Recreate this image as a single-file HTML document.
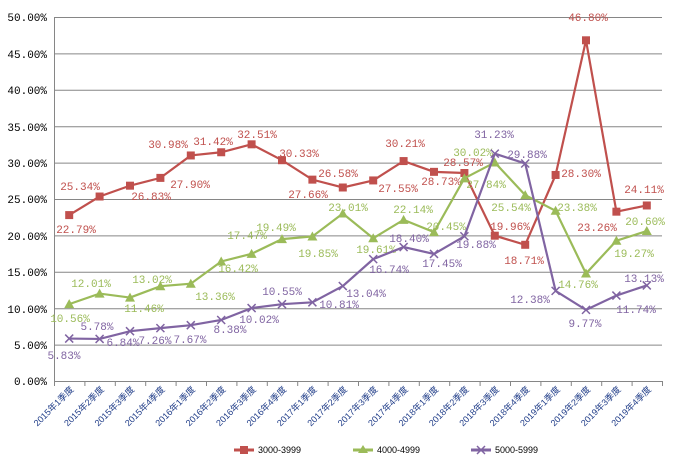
<!DOCTYPE html><html><head><meta charset="utf-8"><style>body{margin:0;background:#fff}svg{display:block}</style></head><body>
<svg width="679" height="467" xmlns="http://www.w3.org/2000/svg" font-family="Liberation Mono, monospace">
<g stroke="#868686" stroke-width="1">
<line x1="54" y1="17.5" x2="662" y2="17.5"/><line x1="54" y1="53.9" x2="662" y2="53.9"/><line x1="54" y1="90.3" x2="662" y2="90.3"/><line x1="54" y1="126.7" x2="662" y2="126.7"/><line x1="54" y1="163.1" x2="662" y2="163.1"/><line x1="54" y1="199.5" x2="662" y2="199.5"/><line x1="54" y1="235.9" x2="662" y2="235.9"/><line x1="54" y1="272.3" x2="662" y2="272.3"/><line x1="54" y1="308.7" x2="662" y2="308.7"/><line x1="54" y1="345.1" x2="662" y2="345.1"/><line x1="54" y1="381.5" x2="662" y2="381.5"/>
<line x1="54.5" y1="17" x2="54.5" y2="381"/>
</g>
<g font-size="11" fill="#000" text-anchor="end" font-family="Liberation Mono, monospace">
<text x="47" y="21">50.00%</text><text x="47" y="58">45.00%</text><text x="47" y="94">40.00%</text><text x="47" y="131">35.00%</text><text x="47" y="167">30.00%</text><text x="47" y="203">25.00%</text><text x="47" y="240">20.00%</text><text x="47" y="276">15.00%</text><text x="47" y="313">10.00%</text><text x="47" y="349">5.00%</text><text x="47" y="385">0.00%</text>
</g>
<g id="ticks" stroke="#868686"></g>
<g id="xl" font-size="9" fill="#1f3c88" font-family="Liberation Sans, Noto Sans CJK SC, sans-serif"></g>
<g id="series"></g>
<g font-size="9" font-family="Liberation Sans, sans-serif" fill="#000">
<line x1="234" y1="450" x2="254" y2="450" stroke="#c0504d" stroke-width="3"/><rect x="240" y="446" width="8" height="8" fill="#c0504d"/><text x="258" y="453">3000-3999</text>
<line x1="353" y1="450" x2="373" y2="450" stroke="#9bbb59" stroke-width="3"/><path d="M363 445 L368 453 L358 453Z" fill="#9bbb59"/><text x="377" y="453">4000-4999</text>
<line x1="471" y1="450" x2="491" y2="450" stroke="#8064a2" stroke-width="3"/><path d="M477 446 L485 454 M485 446 L477 454" stroke="#8064a2" stroke-width="1.5"/><text x="495" y="453">5000-5999</text>
</g>
</svg>
<script>
var ns="http://www.w3.org/2000/svg";
function X(i){return 54+30.4*(i+0.5)}function Y(v){return 381-v*7.28}
var q=["1","2","3","4"],labs=[];for(var y=2015;y<=2019;y++)for(var k=0;k<4;k++)labs.push(y+"年"+q[k]+"季度");
var t=document.getElementById("ticks"),xl=document.getElementById("xl");
for(var i=0;i<=20;i++){var l=document.createElementNS(ns,"line");var x=54.5+30.4*i;l.setAttribute("x1",x);l.setAttribute("x2",x);l.setAttribute("y1",381);l.setAttribute("y2",386);t.appendChild(l);}
labs.forEach(function(s,i){var e=document.createElementNS(ns,"text");var x=X(i)+5,y=390;e.setAttribute("x",x);e.setAttribute("y",y);e.setAttribute("text-anchor","end");e.setAttribute("transform","rotate(-45 "+x+" "+y+")");e.textContent=s;xl.appendChild(e);});
var R=[22.79,25.34,26.83,27.90,30.98,31.42,32.51,30.33,27.66,26.58,27.55,30.21,28.73,28.57,19.96,18.71,28.30,46.80,23.26,24.11];
var G=[10.56,12.01,11.46,13.02,13.36,16.42,17.47,19.49,19.85,23.01,19.61,22.14,20.45,27.84,30.02,25.54,23.38,14.76,19.27,20.60];
var P=[5.83,5.78,6.84,7.26,7.67,8.38,10.02,10.55,10.81,13.04,16.74,18.40,17.45,19.88,31.23,29.88,12.38,9.77,11.74,13.13];
var RL=[[76,233],[80,190],[151,200],[190,188],[168,148],[213,145],[257,138],[299,157],[308,198],[338,177],[398,192],[405,147],[441,185],[463,166],[510,230],[524,264],[581,177],[588,21],[597,231],[644,193]];
var GL=[[70,322],[91,287],[144,312],[152,283],[215,300],[238,272],[247,239],[276,231],[318,257],[348,211],[376,253],[413,213],[446,230],[486,188],[473,156],[511,211],[577,211],[578,288],[634,257],[645,225]];
var PL=[[64,359],[97,330],[123,346],[155,344],[190,343],[230,333],[259,323],[282,295],[339,308],[366,297],[389,273],[409,242],[442,267],[476,248],[494,138],[527,158],[530,303],[585,327],[636,313],[644,282]];
var S=document.getElementById("series");
function draw(d,c,L,m){var pts=d.map(function(v,i){return X(i)+","+Y(v)}).join(" ");var p=document.createElementNS(ns,"polyline");p.setAttribute("points",pts);p.setAttribute("fill","none");p.setAttribute("stroke",c);p.setAttribute("stroke-width","2.2");S.appendChild(p);
d.forEach(function(v,i){var x=X(i),y=Y(v),e=document.createElementNS(ns,"path");
if(m=="s")e.setAttribute("d","M"+(x-4)+" "+(y-4)+"h8v8h-8z"),e.setAttribute("fill",c);
else if(m=="t")e.setAttribute("d","M"+x+" "+(y-5)+"L"+(x+5)+" "+(y+4)+"L"+(x-5)+" "+(y+4)+"Z"),e.setAttribute("fill",c);
else e.setAttribute("d","M"+(x-4)+" "+(y-4)+"L"+(x+4)+" "+(y+4)+"M"+(x+4)+" "+(y-4)+"L"+(x-4)+" "+(y+4)),e.setAttribute("stroke",c),e.setAttribute("stroke-width","1.5");
S.appendChild(e);
var tx=document.createElementNS(ns,"text");tx.setAttribute("x",L[i][0]);tx.setAttribute("y",L[i][1]);tx.setAttribute("font-size","11");tx.setAttribute("fill",c);tx.setAttribute("text-anchor","middle");tx.textContent=v.toFixed(2)+"%";S.appendChild(tx);});}
draw(R,"#c0504d",RL,"s");draw(G,"#9bbb59",GL,"t");draw(P,"#8064a2",PL,"x");
</script>
</body></html>
